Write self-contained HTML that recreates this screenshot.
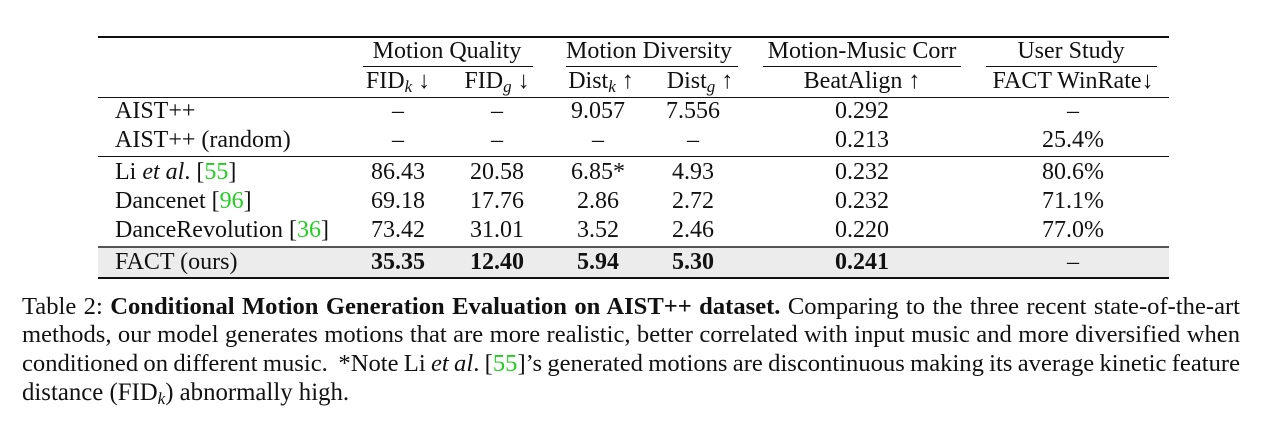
<!DOCTYPE html>
<html><head><meta charset="utf-8">
<style>
body{margin:0;width:1262px;height:429px;background:#fff;position:relative;overflow:hidden;font-family:"Liberation Serif",serif;color:#111;font-size:24px}
.t{position:absolute;white-space:nowrap;transform:translateX(-50%);line-height:26px}
.l{position:absolute;white-space:nowrap;line-height:26px}
.r{position:absolute;background:#111}
.g{color:#1fd01f}
b{font-weight:bold}
sub{font-style:italic;font-size:17px;vertical-align:-4px;line-height:0}
.cap{position:absolute;left:22px;width:1218px;line-height:26px;text-align:justify;text-align-last:justify;white-space:nowrap;font-size:24.6px;word-spacing:-2.6px}
</style></head><body>
<div class="r" style="left:98px;top:36px;width:1071px;height:2px"></div>
<div class="t" style="left:447px;top:38px">Motion Quality</div>
<div class="t" style="left:649px;top:38px">Motion Diversity</div>
<div class="t" style="left:862px;top:38px">Motion-Music Corr</div>
<div class="t" style="left:1071px;top:38px">User Study</div>
<div class="r" style="left:363px;top:66px;width:170px;height:1px"></div>
<div class="r" style="left:566px;top:66px;width:172px;height:1px"></div>
<div class="r" style="left:763px;top:66px;width:198px;height:1px"></div>
<div class="r" style="left:986px;top:66px;width:171px;height:1px"></div>
<div class="t" style="left:398px;top:68px">FID<sub>k</sub> ↓</div>
<div class="t" style="left:497px;top:68px">FID<sub>g</sub> ↓</div>
<div class="t" style="left:601px;top:68px">Dist<sub>k</sub> ↑</div>
<div class="t" style="left:700px;top:68px">Dist<sub>g</sub> ↑</div>
<div class="t" style="left:862px;top:68px">BeatAlign ↑</div>
<div class="t" style="left:1073px;top:68px">FACT WinRate↓</div>
<div class="r" style="left:98px;top:97px;width:1071px;height:1px"></div>
<div style="position:absolute;left:98px;top:247px;width:1071px;height:30px;background:#ececec"></div>
<div class="r" style="left:98px;top:156px;width:1071px;height:1px"></div>
<div class="r" style="left:98px;top:246px;width:1071px;height:2px;background:#555"></div>
<div class="r" style="left:98px;top:277px;width:1071px;height:2px"></div>
<div id="rows"></div>
<div class="cap" style="top:294px">Table 2: <b>Conditional Motion Generation Evaluation on AIST++ dataset.</b> Comparing to the three recent state-of-the-art</div>
<div class="cap" style="top:322px">methods, our model generates motions that are more realistic, better correlated with input music and more diversified when</div>
<div class="cap" style="top:351px">conditioned on different music. &nbsp;*Note Li <i>et al</i>. [<span class="g">55</span>]’s generated motions are discontinuous making its average kinetic feature</div>
<div class="l" style="left:22px;top:380px;font-size:24.8px">distance (FID<sub>k</sub>) abnormally high.</div>
<script>
const methods=['AIST++','AIST++ (random)','Li <i>et al</i>. [<span class="g">55</span>]','Dancenet [<span class="g">96</span>]','DanceRevolution [<span class="g">36</span>]','FACT (ours)'];
const fidk=['–','–','86.43','69.18','73.42','35.35'];
const fidg=['–','–','20.58','17.76','31.01','12.40'];
const distk=['9.057','–','6.85*','2.86','3.52','5.94'];
const distg=['7.556','–','4.93','2.72','2.46','5.30'];
const beat=['0.292','0.213','0.232','0.232','0.220','0.241'];
const win=['–','25.4%','80.6%','71.1%','77.0%','–'];
const tops=[98,127,159,188,217,249];
const cols=[[fidk,398],[fidg,497],[distk,598],[distg,693],[beat,862],[win,1073]];
const c=document.getElementById('rows');
methods.forEach((m,i)=>{
  const d=document.createElement('div');d.className='l';d.style.left='115px';d.style.top=tops[i]+'px';d.innerHTML=m;
  
  
  c.appendChild(d);
  cols.forEach(([arr,x])=>{
    const e=document.createElement('div');e.className='t';e.style.left=x+'px';e.style.top=tops[i]+'px';
    e.textContent=arr[i];
    if(i===5&&arr[i]!=='–')e.style.fontWeight='bold';
    
    
    c.appendChild(e);
  });
});
</script>
</body></html>
